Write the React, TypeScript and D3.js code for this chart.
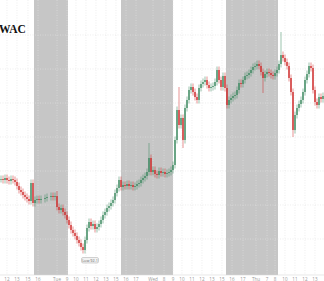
import React from "react";
import * as d3 from "d3";

const W = 324;
const H = 281;

// close prices, one candle per slot (null = no trade in that slot)
const closes: (number | null)[] = [
  99.4, 99.3, 99.5, 99.3, 99.2, 99.4, 99.3, 99.1, 98.7, 98.3,
  98.1, 97.8, 97.6, 97.4, 97.2, 99.0, 97.0, 97.3, 97.4, 97.3,
  97.4, null, 97.5, 97.6, null, 97.7, 97.6, 97.7, 96.6, 96.3,
  96.5, 96.1, 95.8, 95.3, 94.8, 94.3, 94.0, 93.7, 93.3, 93.0,
  92.6, 92.3, 93.3, 94.5, 95.1, 94.7, 94.9, 94.4, 94.6, 94.9,
  95.3, 95.8, 96.1, 96.5, 96.7, 97.0, 97.3, 98.0, 98.5, 99.3,
  98.6, 98.8, 98.7, 98.9, 98.7, 98.8, 98.6, 98.7, 98.9, 99.0,
  99.3, 99.5, 99.7, 100.1, 101.5, 100.1, 100.3, 99.9, 99.8, 100.2,
  100.0, 100.1, 99.9, 100.0, 100.1, 100.3, 100.8, 103.3, 106.3, 104.8,
  105.5, 103.3, 106.5, 107.3, 108.3, 108.6, 108.1, 107.6, 107.3, 108.5,
  108.9, 109.1, 109.3, 108.8, 108.5, 108.6, 108.7, 109.1, 110.3, 109.3,
  108.6, 109.7, 108.5, 106.8, 107.3, 107.5, 107.7, 107.8, 108.3, 109.0,
  108.9, 109.3, 109.7, 109.8, 110.0, 110.3, 110.6, 110.7, 110.9, 110.7,
  110.1, 109.5, 109.9, 110.1, 110.0, 109.8, 109.7, 110.0, 110.3, 110.9,
  111.8, 111.5, 111.1, 110.7, 109.5, 108.1, 104.3, 105.8, 106.5, 106.9,
  107.3, 108.1, 109.3, 109.9, 110.7, 110.5, 108.3, 107.1, 106.8, 107.6,
  107.4, 107.7,
];

// notable wicks: [slot, high, low]
const wicks: [number, number | null, number | null][] = [
  [28, 98.2, null],
  [41, null, 92.1],
  [74, 103.0, null],
  [89, 108.6, null],
  [91, null, 102.5],
  [131, null, 108.0],
  [140, 114.1, null],
  [146, null, 103.6],
];

// x-axis labels: [slot, label]
const ticks: [number, string][] = [
  [3, "12"], [8, "13"], [13.5, "15"], [18.5, "16"], [28, "Tue"], [33, "9"],
  [37.5, "10"], [42.5, "11"], [47.5, "12"], [52.5, "13"], [57.5, "15"],
  [62.5, "16"], [67.5, "17"], [76, "Wed"], [81.5, "8"], [86, "9"],
  [90.5, "10"], [95.5, "11"], [100.5, "12"], [105.5, "13"], [110.5, "15"],
  [115.5, "16"], [121, "17"], [127.5, "Thu"], [133, "7"], [137, "8"],
  [142, "10"], [147, "11"], [152, "12"], [157, "13"],
];

// extended-hours shading: [startSlot, endSlot]
const sessions: [number, number][] = [
  [16.5, 33.5],
  [60, 86],
  [112.5, 138.5],
];

const gridPrices = [113.8, 110.4, 107.0, 103.6, 100.2, 96.8, 93.4];

const lowLabel = "Low 92.1";

export default function App() {
  const n = closes.length;
  const axisY = 275;
  const x = d3.scaleLinear().domain([0, n - 1]).range([1, 323]);
  const y = d3.scaleLinear().domain([117.3, 89.8]).range([0, axisY]);

  const green = "#35855a";
  const red = "#cc2424";

  const candles: { i: number; o: number; h: number; l: number; c: number }[] = [];
  let prev: number | null = null;
  closes.forEach((c, i) => {
    if (c == null) return;
    const o = prev == null ? c : prev;
    let h = Math.max(o, c) + 0.35;
    let l = Math.min(o, c) - 0.35;
    const w = wicks.find((d) => d[0] === i);
    if (w) {
      if (w[1] != null) h = Math.max(h, w[1]);
      if (w[2] != null) l = Math.min(l, w[2]);
    }
    candles.push({ i, o, h, l, c });
    prev = c;
  });

  const lowIdx = 41;

  return (
    <svg
      width={W}
      height={H}
      style={{ position: "absolute", left: 0, top: 0, background: "#fff" }}
    >
      {sessions.map(([a, b], k) => (
        <rect key={k} x={x(a)} y={0} width={x(b) - x(a)} height={axisY} fill="#c6c6c6" />
      ))}
      {gridPrices.map((p, k) => (
        <line key={k} x1={0} x2={W} y1={y(p)} y2={y(p)} stroke="#e2e2e2" strokeWidth={0.6} strokeDasharray="1,1.5" />
      ))}
      {ticks.map(([s], k) => (
        <line key={k} x1={x(s)} x2={x(s)} y1={0} y2={axisY} stroke="#e2e2e2" strokeWidth={0.6} strokeDasharray="1,1.5" />
      ))}
      <text x={-1} y={33} fontFamily="'Liberation Serif', 'DejaVu Serif', serif" fontWeight="bold" fontSize={11.5} fill="#111">
        WAC
      </text>
      {candles.map((d) => {
        const col = d.c >= d.o ? green : red;
        const cx = x(d.i);
        const top = y(Math.max(d.o, d.c));
        const bh = Math.max(0.8, y(Math.min(d.o, d.c)) - top);
        return (
          <g key={d.i}>
            <line x1={cx} x2={cx} y1={y(d.h)} y2={y(d.l)} stroke={col} strokeWidth={0.5} />
            <rect x={cx - 0.65} y={top} width={1.3} height={bh} fill={col} />
          </g>
        );
      })}
      <g>
        <rect x={x(lowIdx) - 1.5} y={257.5} width={17} height={5.5} rx={1.5} fill="#f2f2f2" stroke="#a8a8a8" strokeWidth={0.5} />
        <text x={x(lowIdx) + 7} y={261.6} textAnchor="middle" fontSize={3.8} fontFamily="'Open Sans', sans-serif" fill="#666">
          {lowLabel}
        </text>
      </g>
      <line x1={0} x2={W} y1={axisY} y2={axisY} stroke="#d8d8d8" strokeWidth={0.6} />
      {ticks.map(([s, lab], k) => (
        <text key={k} x={x(s)} y={280.5} textAnchor="middle" fontSize={4.6} fontFamily="'Open Sans', sans-serif" fill="#9a9a9a">
          {lab}
        </text>
      ))}
    </svg>
  );
}
